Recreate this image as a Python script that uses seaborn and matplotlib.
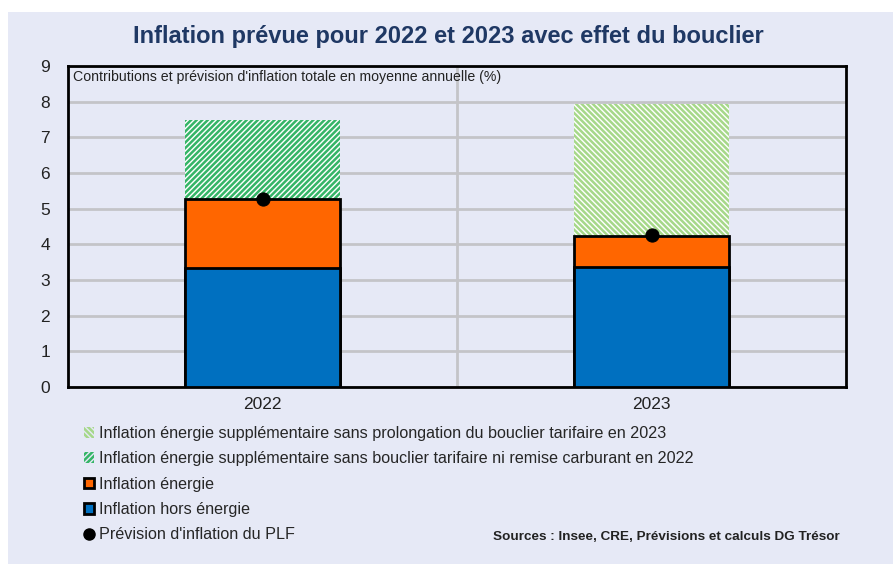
import pandas as pd
import numpy as np
import matplotlib
matplotlib.use("Agg")
import matplotlib.pyplot as plt
from matplotlib.patches import Patch, Rectangle
from matplotlib.lines import Line2D
import seaborn as sns

# Data
years = ["2022", "2023"]
hors_energie = [3.33, 3.36]
energie = [1.94, 0.87]
supplementaire = [2.21, 3.70]
prevision_plf = [5.27, 4.25]

hatch_colors = ["#35B567", "#A6D88A"]
hatches = ["//////", "\\\\\\\\\\\\"]

legend_labels = [
    "Inflation énergie supplémentaire sans prolongation du bouclier tarifaire en 2023",
    "Inflation énergie supplémentaire sans bouclier tarifaire ni remise carburant en 2022",
    "Inflation énergie",
    "Inflation hors énergie",
    "Prévision d'inflation du PLF",
]

bg = "#E6E9F6"
blue = "#0070C0"
orange = "#FF6600"

sns.set_style("white")
plt.rcParams["font.family"] = ["Liberation Sans", "DejaVu Sans"]
plt.rcParams["hatch.linewidth"] = 1.8

df = pd.DataFrame({
    "year": years,
    "hors": hors_energie,
    "energie": energie,
    "supp": supplementaire,
    "plf": prevision_plf,
})
df["tot_energie"] = df["hors"] + df["energie"]
df["tot_supp"] = df["tot_energie"] + df["supp"]

fig = plt.figure(figsize=(8.93, 5.64), dpi=100)
fig.patch.set_facecolor("white")
fig.patches.append(Rectangle((8 / 893, 0), 1, 1 - 12 / 564, transform=fig.transFigure,
                             facecolor=bg, edgecolor="none", zorder=-10))

ax = fig.add_axes([68 / 893, 1 - 387 / 564, (846 - 68) / 893, (387 - 66) / 564])
ax.set_facecolor(bg)

# hatched top layer (total incl. additional energy inflation)
sns.barplot(data=df, x="year", y="tot_supp", color="white", width=0.4,
            linewidth=0, ax=ax, zorder=2)
for p, h, c in zip(ax.patches, hatches, hatch_colors):
    p.set_hatch(h)
    p.set_edgecolor(c)
    p.set_linewidth(0)

sns.barplot(data=df, x="year", y="tot_energie", color=orange, width=0.4,
            edgecolor="black", linewidth=2, saturation=1, ax=ax, zorder=3)
sns.barplot(data=df, x="year", y="hors", color=blue, width=0.4,
            edgecolor="black", linewidth=2, saturation=1, ax=ax, zorder=4)

sns.scatterplot(data=df, x="year", y="plf", color="black", s=90, ax=ax,
                zorder=6, edgecolor="black", legend=False)

ax.set_ylim(0, 9)
ax.set_xlim(-0.5, 1.5)
ax.set_yticks(range(0, 10))
ax.set_xticks([0.5], minor=True)
ax.grid(axis="y", color="#C4C4C8", linewidth=2, zorder=0)
ax.grid(axis="x", which="minor", color="#C4C4C8", linewidth=2, zorder=0)
ax.set_axisbelow(True)
ax.set_xlabel("")
ax.set_ylabel("")
ax.tick_params(axis="both", length=0, labelsize=12.5, colors="#222222")
ax.tick_params(axis="y", pad=13)
ax.tick_params(axis="x", pad=7)
for s in ax.spines.values():
    s.set_visible(True)
    s.set_color("black")
    s.set_linewidth(2)

ax.text(0.006, 0.988, "Contributions et prévision d'inflation totale en moyenne annuelle (%)",
        transform=ax.transAxes, ha="left", va="top", fontsize=10.2, color="#222222")

fig.text(448 / 893, 1 - 36 / 564, "Inflation prévue pour 2022 et 2023 avec effet du bouclier",
         ha="center", va="center", fontsize=17, fontweight="bold", color="#1F3864")

handles = [
    Patch(facecolor="none", edgecolor=hatch_colors[1], hatch=hatches[1], linewidth=0),
    Patch(facecolor="none", edgecolor=hatch_colors[0], hatch=hatches[0], linewidth=0),
    Patch(facecolor=orange, edgecolor="black", linewidth=2),
    Patch(facecolor=blue, edgecolor="black", linewidth=2),
    Line2D([], [], marker="o", color="black", linestyle="none", markersize=8),
]
fig.legend(handles, legend_labels, loc="upper left",
           bbox_to_anchor=(84 / 893, 1 - 426 / 564), frameon=False,
           fontsize=11.6, handlelength=0.65, handleheight=0.65, handletextpad=0.3,
           labelspacing=0.64, borderpad=0, borderaxespad=0)

fig.text(840 / 893, 1 - 537 / 564, "Sources : Insee, CRE, Prévisions et calculs DG Trésor",
         ha="right", va="center", fontsize=9.7, fontweight="bold", color="#222222")

fig.savefig("out.png", dpi=100, facecolor=fig.get_facecolor())
